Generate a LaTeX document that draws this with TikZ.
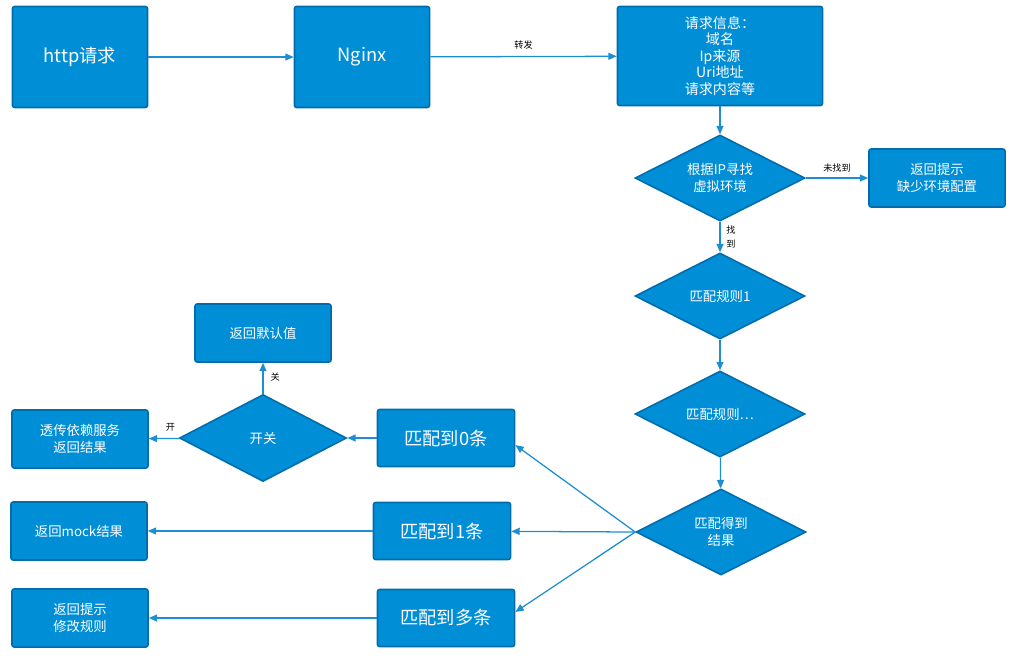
\documentclass[tikz,border=0pt]{standalone}
\usepackage{fontspec}
\setmainfont{Noto Sans CJK SC}
\definecolor{boxblue}{RGB}{0, 142, 214}
\definecolor{edgeblue}{RGB}{0, 108, 172}
\definecolor{lineblue}{RGB}{30, 142, 212}
\usepackage{tikz}
\usetikzlibrary{shapes.geometric, arrows.meta, positioning}

\begin{document}
\begin{tikzpicture}[x=0.025cm, y=-0.025cm,
  box/.style={rectangle, rounded corners=1.5pt, fill=boxblue, draw=edgeblue, line width=1.1pt, text=white, align=center, inner sep=2pt},
  bigbox/.style={box, minimum width=3.375cm, minimum height=2.525cm, font=\fontsize{13}{15}\selectfont},
  infobox/.style={box, minimum width=5.125cm, minimum height=2.475cm, font=\fontsize{10}{11.8}\selectfont},
  endbox/.style={box, minimum width=3.4cm, minimum height=1.45cm, font=\fontsize{9.5}{12.5}\selectfont},
  countbox/.style={box, minimum width=3.425cm, minimum height=1.425cm, font=\fontsize{13}{15}\selectfont},
  check/.style={diamond, aspect=2, inner sep=0pt, fill=boxblue, draw=edgeblue, line width=1.1pt, text=white, align=center, minimum width=4.25cm, minimum height=2.15cm, font=\fontsize{9.5}{12.5}\selectfont},
  flow/.style={-{Triangle[length=6pt, width=5pt]}, lineblue, line width=0.9pt},
  tag/.style={font=\fontsize{6.5}{8}\selectfont, text=black, inner sep=1pt}
]
  \useasboundingbox (0,0) rectangle (1024,660);

  % Top row
  \node[bigbox] (http) at (80, 57) {http请求};
  \node[bigbox] (nginx) at (362, 57) {Nginx};
  \node[infobox] (info) at (720, 56) {请求信息：\\域名\\Ip来源\\Uri地址\\请求内容等};

  % Right column of checks
  \node[check] (findenv) at (720, 178) {根据IP寻找\\虚拟环境};
  \node[endbox] (noenv) at (937, 178) {返回提示\\缺少环境配置};
  \node[check] (rule1) at (720, 296) {匹配规则1};
  \node[check] (rulen) at (720, 414) {匹配规则…};
  \node[check] (result) at (721, 532) {匹配得到\\结果};

  % Match counts
  \node[countbox] (zero) at (446, 438) {匹配到0条};
  \node[countbox] (one) at (442, 531) {匹配到1条};
  \node[countbox] (many) at (446, 618) {匹配到多条};

  % Switch and outcomes
  \node[check, minimum width=4.175cm, minimum height=2.175cm] (switch) at (263, 438) {开关};
  \node[endbox] (default) at (263, 333) {返回默认值};
  \node[endbox] (passthru) at (80, 439) {透传依赖服务\\返回结果};
  \node[endbox] (mock) at (79, 531) {返回mock结果};
  \node[endbox] (fixrule) at (80, 618) {返回提示\\修改规则};

  % Connectors
  \draw[flow] (http) -- (nginx);
  \draw[flow] (nginx) -- node[tag, above=4pt] (fwd) {转发} (info);
  \draw[flow] (info) -- (findenv);
  \draw[flow] (findenv) -- node[tag, above=3pt] (miss) {未找到} (noenv);
  \draw[flow] (findenv) -- node[tag, right=3pt, align=center, font=\fontsize{6.5}{10}\selectfont] (hit) {找\\到} (rule1);
  \draw[flow] (rule1) -- (rulen);
  \draw[flow] (rulen) -- (result);
  \draw[flow] (result.west) -- (zero.south east |- 0,445);
  \draw[flow] (result.west) -- (one);
  \draw[flow] (result.west) -- (many.east |- 0,612);
  \draw[flow] (zero) -- (switch);
  \draw[flow] (switch) -- node[tag, pos=0.55, right=4pt] (off) {关} (default);
  \draw[flow] (switch) -- node[tag, above=4pt, pos=0.3] (on) {开} (passthru);
  \draw[flow] (one) -- (mock);
  \draw[flow] (many) -- (fixrule);
\end{tikzpicture}
\end{document}
